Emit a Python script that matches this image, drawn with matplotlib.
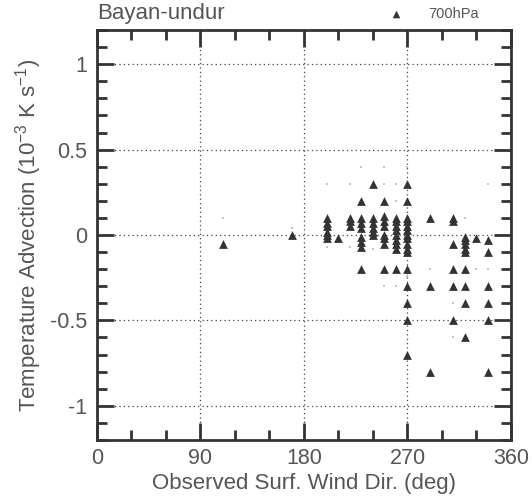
import numpy as np
import matplotlib
matplotlib.use("Agg")
import matplotlib.pyplot as plt
from matplotlib.ticker import MultipleLocator

plt.rcParams["font.family"] = ["Liberation Sans", "DejaVu Sans"]
plt.rcParams["mathtext.default"] = "regular"

# ── 700 hPa temperature advection vs observed surface wind direction ─────────
wdir_700 = [110, 170,
            200, 200, 200, 200, 200, 200,
            210,
            220, 220, 220,
            230, 230, 230, 230, 230, 230, 230, 230,
            240, 240, 240, 240, 240, 240,
            250, 250, 250, 250, 250, 250, 250, 250,
            260, 260, 260, 260, 260, 260, 260, 260, 260,
            270, 270, 270, 270, 270, 270, 270, 270, 270, 270, 270, 270, 270, 270, 270, 270,
            290, 290, 290,
            310, 310, 310, 310, 310, 310,
            320, 320, 320, 320, 320, 320, 320, 320, 320,
            330,
            340, 340, 340, 340, 340, 340]
adv_700 = [-0.05, 0.0,
           0.1, 0.07, 0.05, 0.02, 0.0, -0.02,
           -0.02,
           0.1, 0.08, 0.05,
           0.2, 0.1, 0.07, 0.04, -0.01, -0.04, -0.07, -0.2,
           0.3, 0.1, 0.07, 0.04, 0.02, 0.0,
           0.2, 0.11, 0.08, 0.05, 0.0, -0.02, -0.05, -0.2,
           0.1, 0.08, 0.05, 0.03, 0.0, -0.03, -0.05, -0.08, -0.2,
           0.3, 0.2, 0.1, 0.08, 0.05, 0.03, 0.0, -0.02, -0.05, -0.08, -0.1,
           -0.2, -0.3, -0.4, -0.5, -0.7,
           0.1, -0.3, -0.8,
           0.1, 0.08, -0.05, -0.2, -0.3, -0.5,
           -0.01, -0.03, -0.05, -0.08, -0.1, -0.2, -0.3, -0.4, -0.6,
           -0.02,
           -0.03, -0.1, -0.3, -0.4, -0.5, -0.8]

# faint small dots (other samples)
wdir_dots = [110, 170, 200, 200, 220, 220, 230, 250, 250, 260, 260, 260,
             240, 270, 270, 290, 330, 340, 340, 320, 250, 260, 310, 310]
adv_dots = [0.1, 0.04, 0.3, -0.07, 0.3, -0.07, 0.4, 0.4, 0.3, 0.3, 0.2, -0.3,
            -0.08, 0.4, -0.24, -0.2, -0.2, -0.2, 0.3, 0.1, -0.3, -0.3, -0.4, -0.6]

fig = plt.figure(figsize=(5.32, 5.01), dpi=100)
ax = fig.add_axes([0.1823, 0.1218, 0.7782, 0.8182])

ax.scatter(wdir_dots, adv_dots, s=2, marker="s", color="#c4c4c4", lw=0, zorder=2)
ax.scatter(wdir_700, adv_700, s=40, marker="^", color="#333333", lw=0, zorder=3)

ax.set_xlim(0, 360)
ax.set_ylim(-1.2, 1.2)
ax.xaxis.set_major_locator(MultipleLocator(90))
ax.xaxis.set_minor_locator(MultipleLocator(30))
ax.yaxis.set_major_locator(MultipleLocator(0.5))
ax.yaxis.set_minor_locator(MultipleLocator(0.1))
ax.set_yticks([-1, -0.5, 0, 0.5, 1])
ax.set_yticklabels(["-1", "-0.5", "0", "0.5", "1"])
ax.set_xticks([0, 90, 180, 270, 360])

ax.grid(True, which="major", color="#444444", ls=(0, (1, 2.5)), lw=0.9)
ax.tick_params(which="both", direction="in", top=True, right=True,
               colors="#333333", labelcolor="#555555", labelsize=15.5, width=2)
ax.tick_params(which="major", length=12)
ax.tick_params(axis="x", which="major", pad=6)
ax.tick_params(axis="y", which="major", pad=7)
ax.tick_params(which="minor", length=7)
for s in ax.spines.values():
    s.set_linewidth(2)
    s.set_color("#333333")

ax.set_xlabel("Observed Surf. Wind Dir. (deg)", fontsize=16, color="#555555", labelpad=3)
ax.set_ylabel("Temperature Advection (10$^{-3}$ K s$^{-1}$)", fontsize=16,
              color="#555555", labelpad=4)

fig.text(97 / 532, 1 - 14 / 501, "Bayan-undur", fontsize=16, color="#555555",
         ha="left", va="center")
ax.scatter([396 / 532], [1 - 14 / 501], s=30, marker="^", color="#333333",
           lw=0, transform=fig.transFigure, clip_on=False)
fig.text(428 / 532, 1 - 14 / 501, "700hPa", fontsize=10.5, color="#555555",
         ha="left", va="center")

plt.savefig("out.png", dpi=100)
